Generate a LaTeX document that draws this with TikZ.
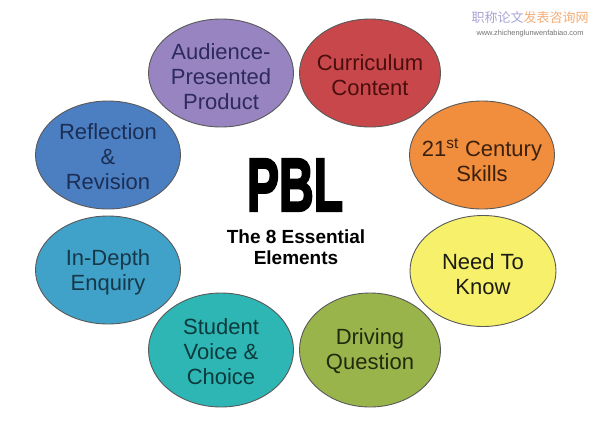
\documentclass[tikz,border=0pt]{standalone}
\usepackage{fontspec}
\setmainfont{Liberation Sans}
\newfontfamily\cjk{Noto Sans CJK SC}
\newfontfamily\pblfont{Liberation Sans}[FakeBold=3.5]
\usetikzlibrary{shapes.geometric}
\definecolor{cPurple}{HTML}{9784C0}
\definecolor{cRed}{HTML}{C8474A}
\definecolor{cOrange}{HTML}{F08E3E}
\definecolor{cYellow}{HTML}{F6F06A}
\definecolor{cGreen}{HTML}{9AB44C}
\definecolor{cTeal}{HTML}{2DB6B3}
\definecolor{cSky}{HTML}{40A2C8}
\definecolor{cBlue}{HTML}{4C7EC2}
\definecolor{tPurple}{HTML}{2E2A5E}
\definecolor{tRed}{HTML}{4A0E0E}
\definecolor{tOrange}{HTML}{3D200C}
\definecolor{tYellow}{HTML}{1C1C14}
\definecolor{tGreen}{HTML}{202A0E}
\definecolor{tTeal}{HTML}{0C3A3C}
\definecolor{tSky}{HTML}{17384A}
\definecolor{tBlue}{HTML}{1B2F55}
\definecolor{wmPurple}{HTML}{A8A4D8}
\definecolor{wmOrange}{HTML}{F4AE78}
\tikzset{
  elli/.style={ellipse, draw=black!65, line width=0.9pt, inner sep=0pt,
    minimum width=145pt, minimum height=108pt},
  lbl/.style={align=center, inner sep=0pt, font=\fontsize{22}{25}\selectfont}
}
\begin{document}
\begin{tikzpicture}[x=1pt,y=-1pt]
\useasboundingbox[fill=white] (0,0) rectangle (596,442);
% ellipses
\node[elli, fill=cPurple] (aud) at (221,73) {};
\node[elli, fill=cRed, minimum width=141pt] (cur) at (370,73) {};
\node[elli, fill=cBlue] (ref) at (108,155) {};
\node[elli, fill=cOrange] (cen) at (482,155) {};
\node[elli, fill=cSky] (dep) at (108,270) {};
\node[elli, fill=cYellow, minimum width=146pt, minimum height=111pt] (nee) at (483,271) {};
\node[elli, fill=cTeal, minimum height=114pt] (stu) at (221,350) {};
\node[elli, fill=cGreen, minimum width=141pt, minimum height=114pt] (dri) at (370,350) {};
% labels
\node[lbl, text=tPurple] (audt) at ([yshift=-4pt]aud.center) {Audience-\\Presented\\Product};
\node[lbl, text=tRed] (curt) at ([yshift=-2pt]cur.center) {Curriculum\\Content};
\node[lbl, text=tBlue] (reft) at ([yshift=-2pt]ref.center) {Reflection\\\&\\Revision};
\node[lbl, text=tOrange] (cent) at ([yshift=-5pt]cen.center) {21\textsuperscript{st} Century\\Skills};
\node[lbl, text=tSky] (dept) at ([yshift=-2pt]dep.center) {In-Depth\\Enquiry};
\node[lbl, text=tYellow] (neet) at ([yshift=-3pt]nee.center) {Need To\\Know};
\node[lbl, text=tTeal] (stut) at ([yshift=-2pt]stu.center) {Student\\Voice \&\\Choice};
\node[lbl, text=tGreen] (drit) at ([yshift=-1pt]dri.center) {Driving\\Question};
% centre title
\node[inner sep=0pt] (pbl) at (295,185) {\scalebox{0.64}[1]{\fontsize{75}{75}\selectfont\pblfont\bfseries PBL}};
\node[align=center, inner sep=0pt, font=\fontsize{19}{21}\selectfont\bfseries] (sub) at (296,247) {The 8 Essential\\Elements};
% watermark
\node[inner sep=0pt, font=\fontsize{13}{13}\selectfont\cjk] (wm) at (530,18) {\textcolor{wmPurple}{职称论文}\textcolor{wmOrange}{发表咨询网}};
\node[inner sep=0pt, font=\fontsize{7.4}{8}\selectfont, text=black!55] (url) at (530,34) {www.zhichenglunwenfabiao.com};
\end{tikzpicture}
\end{document}
